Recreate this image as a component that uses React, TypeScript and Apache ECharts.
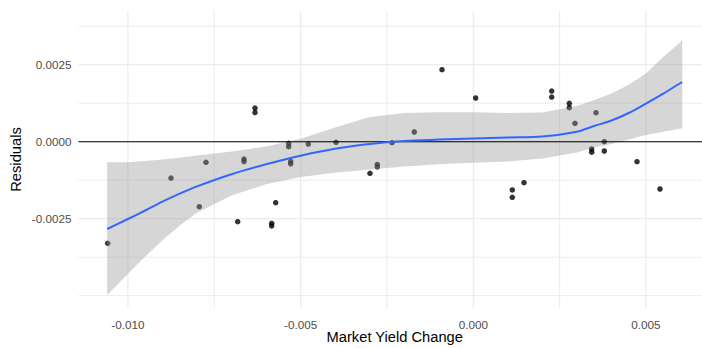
import { useEffect, useRef } from "react";
import * as echarts from "echarts";

// Residuals against market yield change
const pointX = [
  -0.010585, -0.008752, -0.007933, -0.007739, -0.006821, -0.006639, -0.006639,
  -0.00632, -0.00632, -0.005837, -0.005837, -0.005721, -0.005345, -0.005345,
  -0.005287, -0.005287, -0.004777, -0.003975, -0.002991, -0.002779, -0.002779,
  -0.002354, -0.001708, -0.000906, 0.000069, 0.001129, 0.001129, 0.001468,
  0.00227, 0.00227, 0.002779, 0.002779, 0.002944, 0.003552, 0.003793, 0.003428,
  0.003428, 0.003793, 0.00474, 0.005405,
];
const pointY = [
  -0.003299, -0.001179, -0.002111, -0.000669, -0.002598, -0.000562, -0.000643,
  0.001094, 0.000948, -0.00265, -0.002737, -0.001981, -0.000052, -0.000162,
  -0.00064, -0.00072, -0.000075, -0.00002, -0.001026, -0.00074, -0.000821,
  -0.000032, 0.000315, 0.002338, 0.001419, -0.001568, -0.001805, -0.001331,
  0.001646, 0.001451, 0.001247, 0.001104, 0.000597, 0.000942, 0.0, -0.000237,
  -0.000341, -0.000302, -0.000649, -0.001536,
];

// Loess fit with its confidence band
const smoothX = [
  -0.0106, -0.01, -0.0095, -0.009, -0.0085, -0.008, -0.007, -0.006, -0.005,
  -0.004, -0.003, -0.002, -0.001, 0, 0.001, 0.002, 0.003, 0.0035, 0.004,
  0.0045, 0.005, 0.0055, 0.006, 0.00605,
];
const smoothFit = [
  -0.002835, -0.00251, -0.002234, -0.001945, -0.001685, -0.001451, -0.001055,
  -0.000734, -0.000455, -0.00023, -0.000075, 0.000023, 0.000068, 0.000104,
  0.000136, 0.000169, 0.000325, 0.00051, 0.000688, 0.000932, 0.00124,
  0.001562, 0.001906, 0.001929,
];
const smoothLower = [
  -0.004978, -0.004296, -0.003731, -0.003198, -0.002721, -0.002309, -0.001744,
  -0.001383, -0.001146, -0.00101, -0.000903, -0.000805, -0.000734, -0.000685,
  -0.000643, -0.000545, -0.000351, -0.000185, -0.000075, 0.0000714, 0.000218,
  0.000321, 0.000429, 0.000435,
];
const smoothUpper = [
  -0.000669, -0.000669, -0.000627, -0.000581, -0.000523, -0.000451, -0.000318,
  -0.000153, 0.000094, 0.000464, 0.000805, 0.000932, 0.000955, 0.000955,
  0.000932, 0.000948, 0.001159, 0.001354, 0.001565, 0.001848, 0.002214,
  0.00275, 0.003237, 0.003357,
];

// Axis ticks and grid lines
const xTicks = [-0.01, -0.005, 0, 0.005];
const xMinorGrid = [-0.0075, -0.0025, 0.0025];
const yTicks = [-0.0025, 0, 0.0025];
const yMinorGrid = [-0.005, -0.00375, -0.00125, 0.00125, 0.00375];

const X_MIN = -0.01143;
const X_MAX = 0.006882;
const Y_MIN = -0.0054;
const Y_MAX = 0.004244;

const FONT = "'Liberation Sans', Arial, sans-serif";

export default function App() {
  const ref = useRef<HTMLDivElement>(null);

  useEffect(() => {
    const chart = echarts.init(ref.current!, null, { renderer: "svg" });

    const hGrid = (values: number[], color: string, width: number, z: number) => ({
      type: "custom",
      coordinateSystem: "cartesian2d",
      silent: true,
      z,
      data: values.map((v) => [v]),
      renderItem: (_p: any, api: any) => {
        const v = api.value(0);
        const a = api.coord([X_MIN, v]);
        const b = api.coord([X_MAX, v]);
        return {
          type: "line",
          shape: { x1: a[0], y1: a[1], x2: b[0], y2: b[1] },
          style: { stroke: color, lineWidth: width },
        };
      },
    });

    const vGrid = (values: number[], color: string, width: number, z: number) => ({
      type: "custom",
      coordinateSystem: "cartesian2d",
      silent: true,
      z,
      data: values.map((v) => [v]),
      renderItem: (_p: any, api: any) => {
        const v = api.value(0);
        const a = api.coord([v, Y_MIN]);
        const b = api.coord([v, Y_MAX]);
        return {
          type: "line",
          shape: { x1: a[0], y1: a[1], x2: b[0], y2: b[1] },
          style: { stroke: color, lineWidth: width },
        };
      },
    });

    chart.setOption({
      animation: false,
      backgroundColor: "#ffffff",
      // the plotting panel runs a little past the right edge of the canvas
      grid: {
        left: 78.5,
        top: 11,
        width: 632.5,
        height: 297,
        containLabel: false,
        outerBoundsMode: "none",
      },
      xAxis: {
        type: "value",
        min: X_MIN,
        max: X_MAX,
        axisLine: { show: false },
        axisTick: { show: false },
        splitLine: { show: false },
        axisLabel: {
          customValues: xTicks,
          formatter: (v: number) => v.toFixed(3),
          color: "#4d4d4d",
          fontSize: 11.7,
          fontFamily: FONT,
          margin: 10,
        },
        name: "Market Yield Change",
        nameLocation: "middle",
        nameGap: 21,
        nameMoveOverlap: false,
        nameTextStyle: { color: "#000000", fontSize: 14.7, fontFamily: FONT },
      },
      yAxis: {
        type: "value",
        min: Y_MIN,
        max: Y_MAX,
        axisLine: { show: false },
        axisTick: { show: false },
        splitLine: { show: false },
        axisLabel: {
          customValues: yTicks,
          formatter: (v: number) => v.toFixed(4),
          color: "#4d4d4d",
          fontSize: 11.7,
          fontFamily: FONT,
          margin: 7,
        },
        name: "Residuals",
        nameLocation: "middle",
        nameGap: 55,
        nameMoveOverlap: false,
        nameTextStyle: { color: "#000000", fontSize: 14.7, fontFamily: FONT },
      },
      series: [
        vGrid(xMinorGrid, "#ebebeb", 1, 0),
        hGrid(yMinorGrid, "#ebebeb", 1, 0),
        vGrid(xTicks, "#ebebeb", 1.2, 0),
        hGrid(yTicks, "#ebebeb", 1.2, 0),
        {
          type: "scatter",
          z: 2,
          symbolSize: 5.5,
          itemStyle: { color: "#000000" },
          data: pointX.map((x, i) => [x, pointY[i]]),
        },
        {
          type: "custom",
          coordinateSystem: "cartesian2d",
          silent: true,
          z: 3,
          data: [[0, 0]],
          renderItem: (_p: any, api: any) => {
            const top = smoothX.map((x, i) => api.coord([x, smoothUpper[i]]));
            const bottom = smoothX
              .map((x, i) => api.coord([x, smoothLower[i]]))
              .reverse();
            return {
              type: "polygon",
              shape: { points: top.concat(bottom) },
              style: { fill: "#999999", opacity: 0.4 },
            };
          },
        },
        hGrid([0], "#000000", 1.1, 4),
        {
          type: "line",
          z: 5,
          showSymbol: false,
          smooth: 0.3,
          lineStyle: { color: "#3366FF", width: 2 },
          data: smoothX.map((x, i) => [x, smoothFit[i]]),
        },
      ],
    });

    return () => chart.dispose();
  }, []);

  return (
    <div
      ref={ref}
      style={{ position: "fixed", left: 0, top: 0, width: 702, height: 348 }}
    />
  );
}
